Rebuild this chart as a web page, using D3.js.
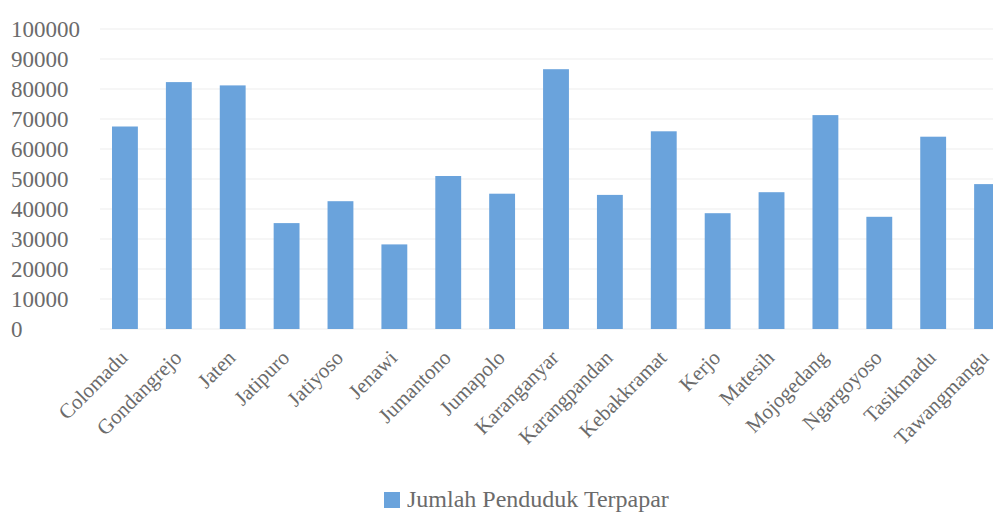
<!DOCTYPE html>
<html>
<head>
<meta charset="utf-8">
<script src="https://cdn.jsdelivr.net/npm/d3@7"></script>
<style>
  html, body { margin: 0; padding: 0; background: #fff; }
  svg { display: block; }
</style>
</head>
<body>
<svg id="chart" width="993" height="513"></svg>
<script>
const categories = ["Colomadu","Gondangrejo","Jaten","Jatipuro","Jatiyoso","Jenawi","Jumantono","Jumapolo","Karanganyar","Karangpandan","Kebakkramat","Kerjo","Matesih","Mojogedang","Ngargoyoso","Tasikmadu","Tawangmangu"];
const values = [67500, 82300, 81200, 35300, 42600, 28200, 51000, 45100, 86600, 44700, 65900, 38600, 45600, 71300, 37400, 64100, 48300];
const yTicks = [0, 10000, 20000, 30000, 40000, 50000, 60000, 70000, 80000, 90000, 100000];
const seriesName = "Jumlah Penduduk Terpapar";

const svg = d3.select("#chart");
const barColor = "#6aa3dc";
const textColor = "#6b6b6b";
const font = "'Liberation Serif', 'Times New Roman', serif";

const x = d3.scaleBand().domain(categories).range([98, 1014]).paddingInner(0.52).paddingOuter(0.26);
const y = d3.scaleLinear().domain([0, 100000]).range([329, 29]);

// gridlines
svg.append("g").selectAll("line").data(yTicks).join("line")
  .attr("x1", 100).attr("x2", 993)
  .attr("y1", d => y(d)).attr("y2", d => y(d))
  .attr("stroke", "#ededed").attr("stroke-width", 1);

// y tick labels (left aligned)
svg.append("g").selectAll("text").data(yTicks).join("text")
  .attr("x", 11).attr("y", d => y(d))
  .attr("dy", "0.35em")
  .attr("font-family", font).attr("font-size", 23)
  .attr("fill", textColor)
  .text(d => d);

// bars
svg.append("g").selectAll("rect").data(values).join("rect")
  .attr("x", (d, i) => x(categories[i]))
  .attr("width", x.bandwidth())
  .attr("y", d => y(d))
  .attr("height", d => y(0) - y(d))
  .attr("fill", barColor);

// x labels
svg.append("g").selectAll("text").data(categories).join("text")
  .attr("transform", d => `translate(${Math.min(x(d) + x.bandwidth() / 2 + 4, 990)},${359}) rotate(-45)`)
  .attr("text-anchor", "end")
  .attr("font-family", font).attr("font-size", 21)
  .attr("fill", textColor)
  .text(d => d);

// legend
const lg = svg.append("g").attr("transform", "translate(384,492)");
lg.append("rect").attr("x", 0).attr("y", 0).attr("width", 16).attr("height", 16).attr("fill", barColor);
lg.append("text").attr("x", 23).attr("y", 15)
  .attr("font-family", font).attr("font-size", 24)
  .attr("fill", textColor).text(seriesName);
</script>
</body>
</html>
